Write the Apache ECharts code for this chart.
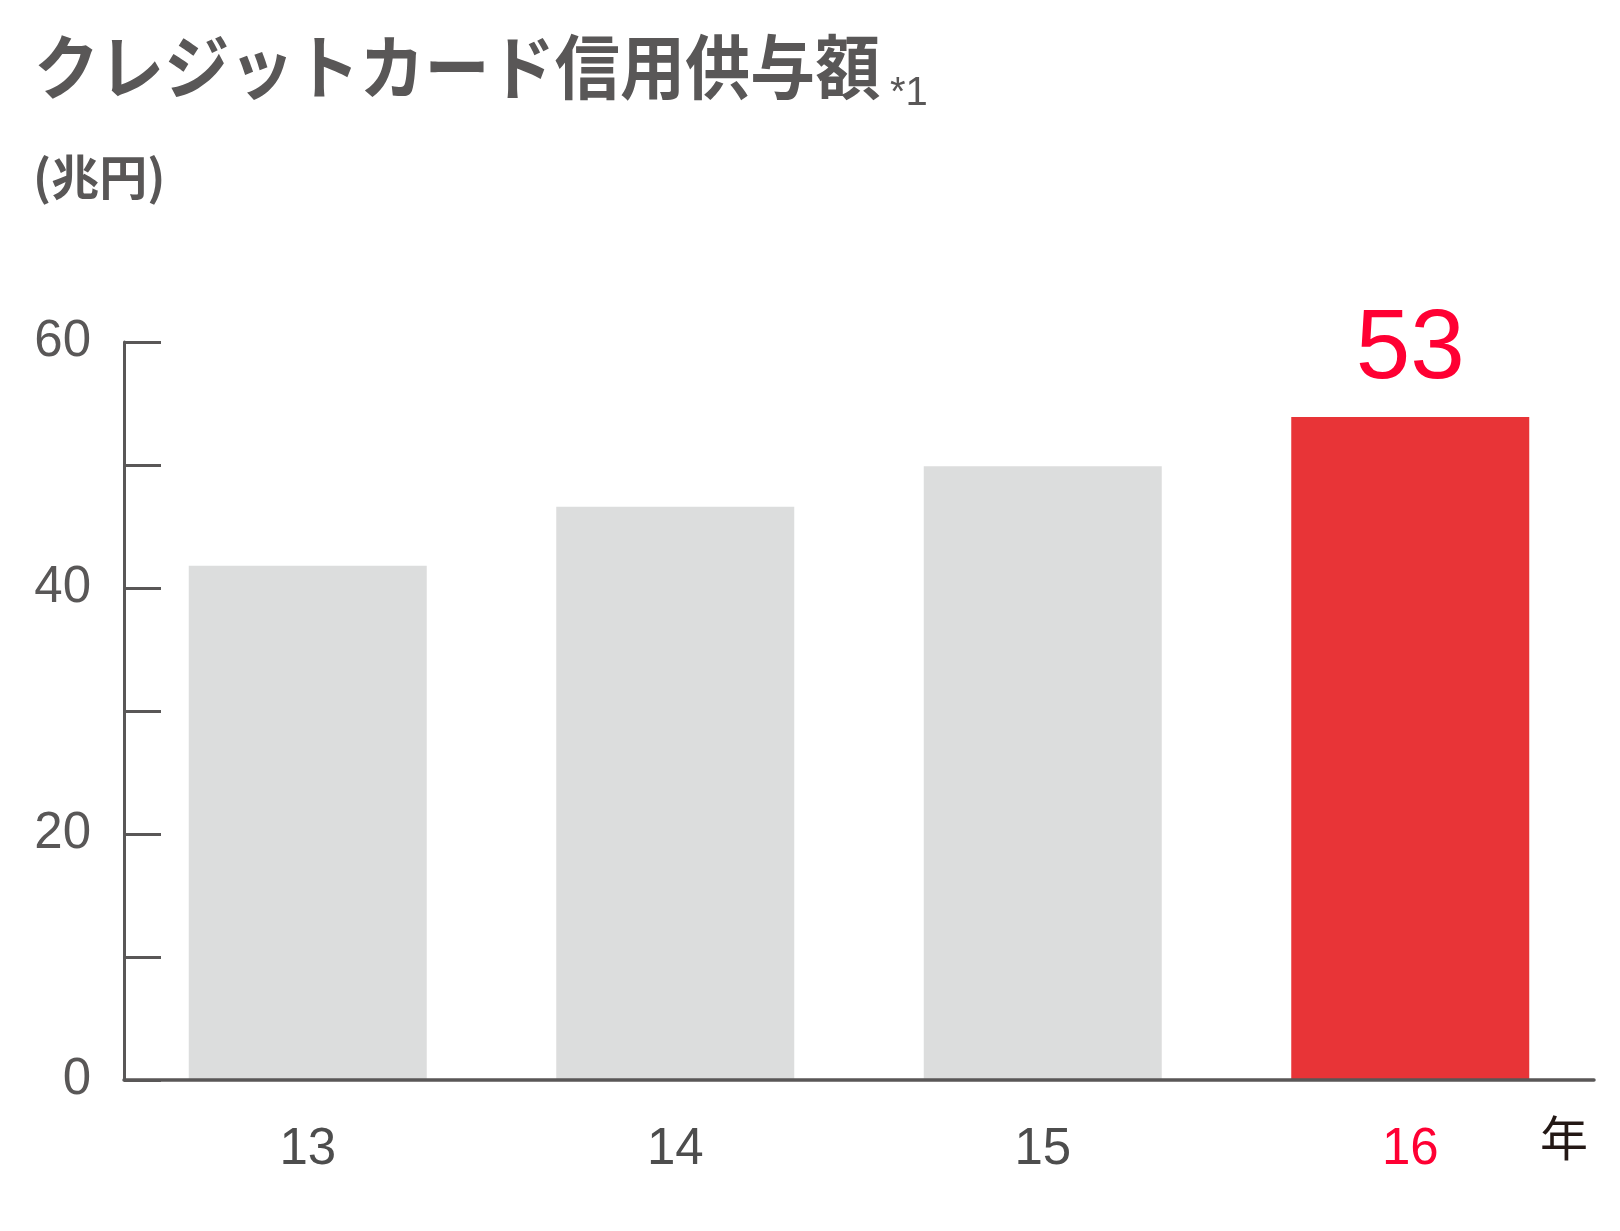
<!DOCTYPE html>
<html>
<head>
<meta charset="utf-8">
<script src="https://cdn.jsdelivr.net/npm/echarts@6/dist/echarts.min.js"></script>
<style>
  html, body { margin: 0; padding: 0; background: #fff; }
  #mybox { width: 1620px; height: 1231px; }
</style>
</head>
<body>
<div id="mybox"></div>
<script>
// データ
var years = ['13', '14', '15', '16'];
var amounts = [41.8, 46.6, 49.9, 53.9];   // 兆円
var highlightIndex = 3;                  // 最新年を赤で強調
var yMax = 60;
var yStep = 10;
var yLabelStep = 20;

var gray = '#595757';
var red = '#ff0033';
var jp = '"Noto Sans CJK JP", sans-serif';
var num = '"Liberation Sans", Arial, sans-serif';

var mycharts = echarts.init(document.getElementById('mybox'));

// カテゴリ（最新年だけ赤）
var catData = years.map(function (y, i) {
    return i === highlightIndex ? { value: y, textStyle: { color: red } } : y;
});

// 棒（最新年だけ赤、数値ラベル付き）
var barData = amounts.map(function (v, i) {
    if (i !== highlightIndex) return v;
    return {
        value: v,
        itemStyle: { color: '#e83437' },
        label: {
            show: true,
            position: 'top',
            distance: 17,
            color: red,
            fontFamily: num,
            fontSize: 98,
            formatter: function (p) { return Math.floor(p.value); }
        }
    };
});

var optionObj = {
    animation: false,
    title: [
        {
            text: '*1',
            left: 890, top: 74, padding: 0,
            textStyle: { fontFamily: num, fontSize: 40, fontWeight: 'normal', color: gray }
        },
        {
            text: '(兆円)',
            left: 33, top: 153, padding: 0,
            textStyle: { fontFamily: jp, fontSize: 48, fontWeight: 'bold', color: gray }
        },
        {
            text: '年',
            left: 1540, top: 1114, padding: 0,
            textStyle: { fontFamily: jp, fontSize: 48, fontWeight: 'normal', color: '#231815' }
        }
    ],
    // タイトルは縦長の書体に合わせて横を少し詰める
    graphic: [
        {
            type: 'text',
            left: 34, top: 32,
            scaleX: 0.93,
            style: {
                text: 'クレジットカード信用供与額',
                font: 'bold 70px ' + jp,
                fill: gray
            }
        }
    ],
    grid: { left: 124, top: 342, width: 1470, height: 738 },
    xAxis: {
        type: 'category',
        data: catData,
        z: 5,
        axisLine: { lineStyle: { color: gray, width: 3.5 } },
        axisTick: { show: false },
        axisLabel: { color: '#4d4d4d', fontFamily: num, fontSize: 51, margin: 44 }
    },
    yAxis: {
        type: 'value',
        min: 0,
        max: yMax,
        interval: yStep,
        z: 5,
        axisLine: { show: true, lineStyle: { color: gray, width: 3 } },
        axisTick: { show: true, inside: true, length: 37, lineStyle: { color: gray, width: 3 } },
        splitLine: { show: false },
        axisLabel: {
            color: gray, fontFamily: num, fontSize: 51, margin: 33,
            formatter: function (v) { return v % yLabelStep === 0 ? v : ''; }
        }
    },
    series: [
        {
            type: 'bar',
            barWidth: 238,
            z: 1,
            itemStyle: { color: '#dcdddd' },
            data: barData
        }
    ]
};

mycharts.setOption(optionObj);
</script>
</body>
</html>
